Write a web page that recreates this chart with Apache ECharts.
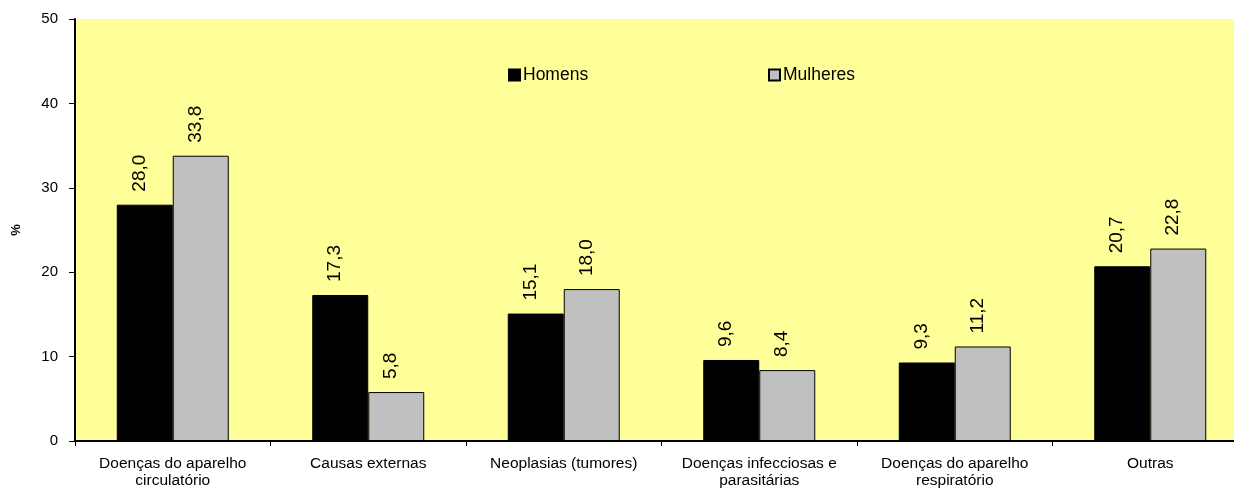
<!DOCTYPE html>
<html>
<head>
<meta charset="utf-8">
<script src="https://cdn.jsdelivr.net/npm/echarts@6/dist/echarts.min.js"></script>
<style>
  html, body { margin: 0; padding: 0; background: #ffffff; }
  #chart { width: 1234px; height: 489px; }
</style>
</head>
<body>
<div id="chart"></div>
<script>
// Causas de morte por sexo (%)
const categories = [
  'Doenças do aparelho\ncirculatório',
  'Causas externas',
  'Neoplasias (tumores)',
  'Doenças infecciosas e\nparasitárias',
  'Doenças do aparelho\nrespiratório',
  'Outras'
];
const homens = [28.0, 17.3, 15.1, 9.6, 9.3, 20.7];
const mulheres = [33.8, 5.8, 18.0, 8.4, 11.2, 22.8];
const yTicks = { min: 0, max: 50, interval: 10 };

const fontFamily = '"Liberation Sans", Arial, sans-serif';
const fmt = v => v.toFixed(1).replace('.', ',');

const valueLabel = {
  show: true,
  position: 'top',
  rotate: 90,
  align: 'left',
  verticalAlign: 'middle',
  distance: 13,
  fontSize: 19,
  fontFamily: fontFamily,
  color: '#000',
  offset: [0, -5],
  formatter: p => fmt(p.value)
};

const legendText = { fontSize: 17.5, color: '#000', fontFamily: fontFamily, padding: [0, 0, 0, -2] };

const chart = echarts.init(document.getElementById('chart'), null, { renderer: 'canvas' });
chart.setOption({
  animation: false,
  backgroundColor: '#ffffff',
  textStyle: { fontFamily: fontFamily },
  grid: {
    left: 75, top: 19, width: 1173, height: 422,
    show: true, backgroundColor: '#FFFF99', borderWidth: 0,
    containLabel: false,
    outerBoundsMode: 'none'
  },
  legend: [
    {
      data: ['Homens'], left: 508, top: 66, padding: 0, icon: 'rect',
      itemWidth: 11, itemHeight: 11, itemGap: 4,
      textStyle: legendText
    },
    {
      data: ['Mulheres'], left: 768, top: 66, padding: 0, icon: 'rect',
      itemWidth: 11, itemHeight: 11, itemGap: 4,
      textStyle: legendText
    }
  ],
  xAxis: {
    type: 'category',
    data: categories,
    axisLine: { show: true, lineStyle: { color: '#000', width: 2 } },
    axisTick: { show: true, alignWithLabel: false, length: 5, lineStyle: { color: '#000', width: 1 } },
    axisLabel: {
      interval: 0, margin: 14, fontSize: 15.5, lineHeight: 17,
      color: '#000', fontFamily: fontFamily
    },
    splitLine: { show: false }
  },
  yAxis: {
    type: 'value',
    min: yTicks.min, max: yTicks.max, interval: yTicks.interval,
    name: '%',
    nameLocation: 'middle',
    nameGap: 52,
    nameRotate: 90,
    nameTextStyle: { fontSize: 13, fontWeight: 'bold', color: '#000', fontFamily: fontFamily },
    axisLine: { show: true, lineStyle: { color: '#000', width: 2 } },
    axisTick: { show: true, inside: false, length: 6, lineStyle: { color: '#000', width: 1 } },
    axisLabel: { fontSize: 15, color: '#000', margin: 17, fontFamily: fontFamily },
    splitLine: { show: false }
  },
  series: [
    {
      name: 'Homens',
      type: 'bar',
      data: homens,
      barWidth: 56,
      barGap: '0%',
      itemStyle: { color: '#000000', borderColor: '#000', borderWidth: 1 },
      label: valueLabel
    },
    {
      name: 'Mulheres',
      type: 'bar',
      data: mulheres,
      barWidth: 56,
      barGap: '0%',
      itemStyle: { color: '#C0C0C0', borderColor: '#000', borderWidth: 1 },
      label: valueLabel
    }
  ]
});
</script>
</body>
</html>
